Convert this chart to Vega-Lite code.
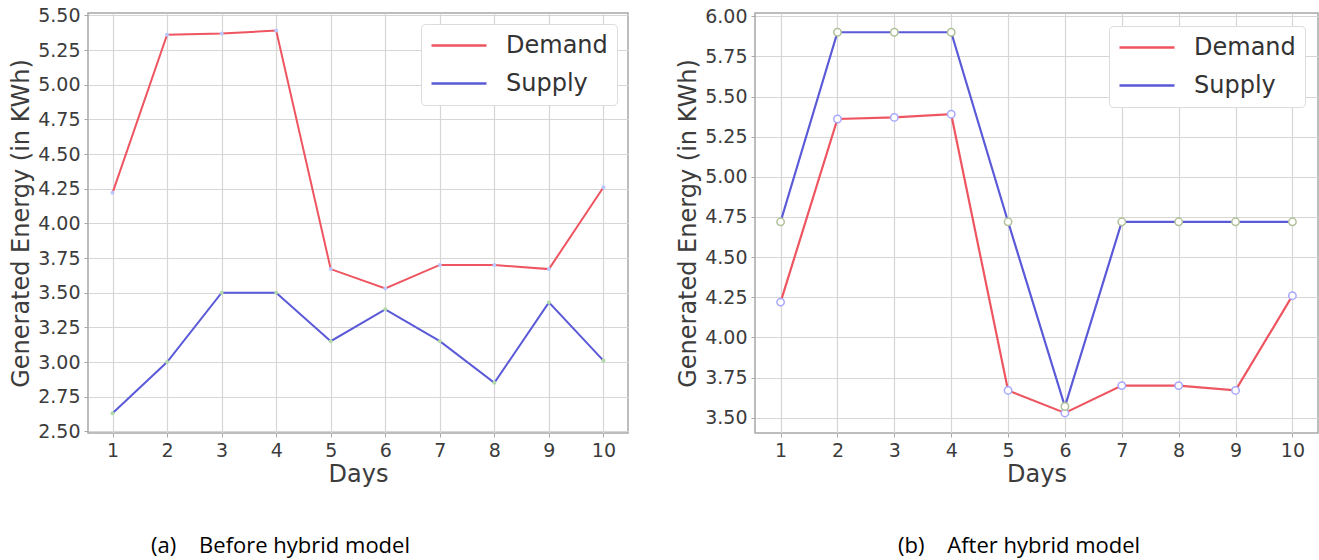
{
  "$schema": "https://vega.github.io/schema/vega-lite/v6.json",
  "background": "white",
  "padding": {"left": 8, "top": 5, "right": 0, "bottom": 0},
  "spacing": 127,
  "bounds": "flush",
  "resolve": {
    "scale": {"color": "independent", "fill": "independent", "stroke": "independent", "x": "independent", "y": "independent"},
    "legend": {"color": "independent", "fill": "independent", "stroke": "independent"}
  },
  "config": {
    "view": {"stroke": "#a8a8a8", "strokeWidth": 1.5},
    "axis": {
      "domain": false,
      "grid": true,
      "gridColor": "#d6d6d6",
      "gridWidth": 1.2,
      "tickColor": "#a8a8a8",
      "tickSize": 4,
      "labelPadding": 4,
      "labelFont": "DejaVu Sans",
      "labelFontSize": 19,
      "labelColor": "#3c3c3c",
      "titleFont": "DejaVu Sans",
      "titleFontSize": 24,
      "titleFontWeight": "normal",
      "titleColor": "#3c3c3c"
    }
  },
  "hconcat": [
    {
      "width": 540,
      "height": 420,
      "data": {"values": [
        {"day": 1, "series": "Demand", "value": 4.22},
        {"day": 2, "series": "Demand", "value": 5.36},
        {"day": 3, "series": "Demand", "value": 5.37},
        {"day": 4, "series": "Demand", "value": 5.39},
        {"day": 5, "series": "Demand", "value": 3.67},
        {"day": 6, "series": "Demand", "value": 3.53},
        {"day": 7, "series": "Demand", "value": 3.70},
        {"day": 8, "series": "Demand", "value": 3.70},
        {"day": 9, "series": "Demand", "value": 3.67},
        {"day": 10, "series": "Demand", "value": 4.26},
        {"day": 1, "series": "Supply", "value": 2.63},
        {"day": 2, "series": "Supply", "value": 3.00},
        {"day": 3, "series": "Supply", "value": 3.50},
        {"day": 4, "series": "Supply", "value": 3.50},
        {"day": 5, "series": "Supply", "value": 3.15},
        {"day": 6, "series": "Supply", "value": 3.38},
        {"day": 7, "series": "Supply", "value": 3.15},
        {"day": 8, "series": "Supply", "value": 2.85},
        {"day": 9, "series": "Supply", "value": 3.43},
        {"day": 10, "series": "Supply", "value": 3.01}
      ]},
      "title": {
        "text": "(a)\u00a0\u00a0\u00a0\u00a0Before hybrid model",
        "orient": "bottom",
        "anchor": "start",
        "frame": "group",
        "dx": 63,
        "offset": 50,
        "font": "Open Sans",
        "fontSize": 22,
        "fontWeight": "normal",
        "color": "#000000"
      },
      "encoding": {
        "x": {
          "field": "day", "type": "quantitative",
          "scale": {"domain": [0.55, 10.45], "nice": false, "zero": false},
          "axis": {"values": [1,2,3,4,5,6,7,8,9,10], "title": "Days", "titlePadding": 2, "labelFlush": false}
        },
        "y": {
          "field": "value", "type": "quantitative",
          "scale": {"domain": [2.488, 5.517], "nice": false, "zero": false},
          "axis": {"values": [2.5,2.75,3,3.25,3.5,3.75,4,4.25,4.5,4.75,5,5.25,5.5], "format": ".2f", "title": "Generated Energy (in KWh)", "titlePadding": 4}
        }
      },
      "layer": [
        {
          "mark": {"type": "line", "strokeWidth": 2},
          "encoding": {
            "color": {"field": "series", "type": "nominal",
              "scale": {"domain": ["Demand", "Supply"], "range": ["#ee5560", "#5a5ad8"]},
              "legend": {
                "title": null, "orient": "top-right", "offset": 11,
                "fillColor": "white", "strokeColor": "#dcdcdc", "cornerRadius": 4,
                "padding": 9, "rowPadding": 13,
                "labelFont": "DejaVu Sans", "labelFontSize": 24, "labelColor": "#333333",
                "labelOffset": 51, "symbolType": "M-1,0H4", "symbolSize": 484, "symbolStrokeWidth": 2.5
              }}
          }
        },
        {
          "mark": {"type": "point", "filled": true, "shape": "circle", "size": 16, "opacity": 1},
          "encoding": {
            "fill": {"field": "series", "type": "nominal",
              "scale": {"domain": ["Demand", "Supply"], "range": ["#b8c8ff", "#b0d8a8"]}, "legend": null}
          }
        }
      ]
    },
    {
      "width": 563,
      "height": 420,
      "data": {"values": [
        {"day": 1, "series": "Demand", "value": 4.22},
        {"day": 2, "series": "Demand", "value": 5.36},
        {"day": 3, "series": "Demand", "value": 5.37},
        {"day": 4, "series": "Demand", "value": 5.39},
        {"day": 5, "series": "Demand", "value": 3.67},
        {"day": 6, "series": "Demand", "value": 3.53},
        {"day": 7, "series": "Demand", "value": 3.70},
        {"day": 8, "series": "Demand", "value": 3.70},
        {"day": 9, "series": "Demand", "value": 3.67},
        {"day": 10, "series": "Demand", "value": 4.26},
        {"day": 1, "series": "Supply", "value": 4.72},
        {"day": 2, "series": "Supply", "value": 5.90},
        {"day": 3, "series": "Supply", "value": 5.90},
        {"day": 4, "series": "Supply", "value": 5.90},
        {"day": 5, "series": "Supply", "value": 4.72},
        {"day": 6, "series": "Supply", "value": 3.57},
        {"day": 7, "series": "Supply", "value": 4.72},
        {"day": 8, "series": "Supply", "value": 4.72},
        {"day": 9, "series": "Supply", "value": 4.72},
        {"day": 10, "series": "Supply", "value": 4.72}
      ]},
      "title": {
        "text": "(b)\u00a0\u00a0\u00a0\u00a0After hybrid model",
        "orient": "bottom",
        "anchor": "start",
        "frame": "group",
        "dx": 143,
        "offset": 50,
        "font": "Open Sans",
        "fontSize": 22,
        "fontWeight": "normal",
        "color": "#000000"
      },
      "encoding": {
        "x": {
          "field": "day", "type": "quantitative",
          "scale": {"domain": [0.55, 10.45], "nice": false, "zero": false},
          "axis": {"values": [1,2,3,4,5,6,7,8,9,10], "title": "Days", "titlePadding": 2, "labelFlush": false}
        },
        "y": {
          "field": "value", "type": "quantitative",
          "scale": {"domain": [3.405, 6.02], "nice": false, "zero": false},
          "axis": {"values": [3.5,3.75,4,4.25,4.5,4.75,5,5.25,5.5,5.75,6], "format": ".2f", "title": "Generated Energy (in KWh)", "titlePadding": 4}
        }
      },
      "layer": [
        {
          "mark": {"type": "line", "strokeWidth": 2.2},
          "encoding": {
            "color": {"field": "series", "type": "nominal",
              "scale": {"domain": ["Demand", "Supply"], "range": ["#ee5560", "#5a5ad8"]},
              "legend": {
                "title": null, "orient": "top-right", "offset": 13,
                "fillColor": "white", "strokeColor": "#dcdcdc", "cornerRadius": 4,
                "padding": 9, "rowPadding": 13,
                "labelFont": "DejaVu Sans", "labelFontSize": 24, "labelColor": "#333333",
                "labelOffset": 51, "symbolType": "M-1,0H4", "symbolSize": 484, "symbolStrokeWidth": 2.5
              }}
          }
        },
        {
          "mark": {"type": "point", "filled": false, "shape": "circle", "size": 55, "fill": "white", "fillOpacity": 1, "strokeWidth": 1.5, "opacity": 1},
          "encoding": {
            "stroke": {"field": "series", "type": "nominal",
              "scale": {"domain": ["Demand", "Supply"], "range": ["#a8a8ff", "#b0c098"]}, "legend": null}
          }
        }
      ]
    }
  ]
}
